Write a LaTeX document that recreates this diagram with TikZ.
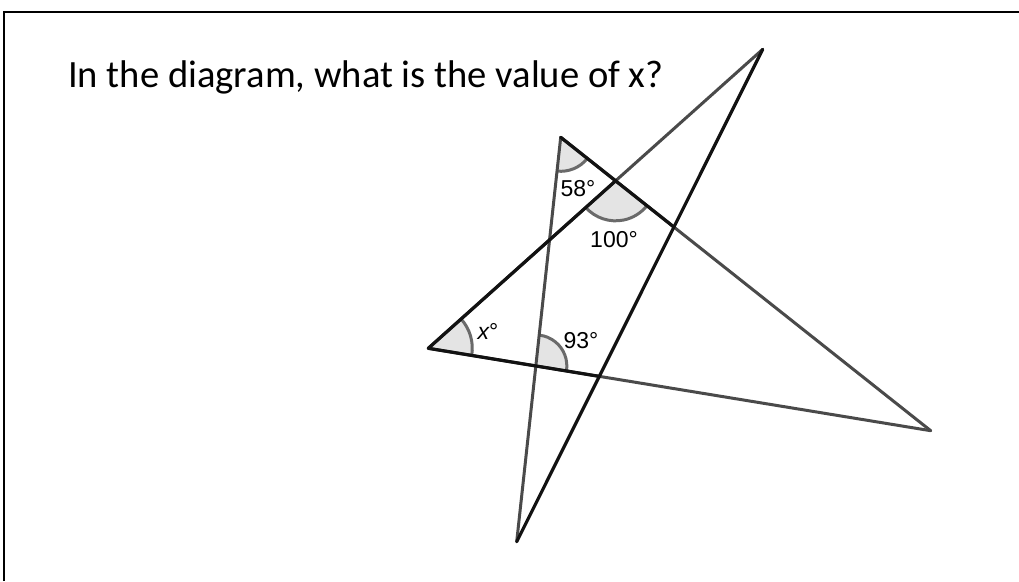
\documentclass[tikz,border=0pt]{standalone}
\usepackage{fontspec}
\setmainfont{Carlito}
\newfontfamily\labfont{Liberation Sans}
\usetikzlibrary{angles,quotes}
\definecolor{lgray}{HTML}{4A4A4A}
\definecolor{ldark}{HTML}{121212}
\definecolor{arcgray}{HTML}{6A6A6A}
\definecolor{arcfill}{HTML}{E4E4E4}
\tikzset{
  thinline/.style={draw=lgray,line width=3pt,line cap=round},
  boldline/.style={draw=ldark,line width=3.2pt,line cap=round,line join=round},
  anglemark/.style={draw=arcgray,fill=arcfill,line width=3pt},
  lab/.style={font=\labfont\fontsize{23}{27}\selectfont,inner sep=0pt},
  frameline/.style={draw=black,line width=2pt}
}
\begin{document}
\begin{tikzpicture}[x=1pt,y=-1pt]
\useasboundingbox (0,0) rectangle (1019,581);
% frame
\coordinate (f1) at (4,581);
\coordinate (f2) at (4,11.5);
\coordinate (f3) at (1019,11.5);
\draw[frameline] (f1) -- (f2) -- (f3);
% title
\node[anchor=base west,inner sep=0pt,font=\fontsize{38.6}{46}\selectfont] (title) at (68,87.3) {In the diagram, what is the value of x?};
% vertices
\coordinate (A) at (560.7,137.3);
\coordinate (R) at (930.7,430.7);
\coordinate (B) at (516.7,541.7);
\coordinate (L) at (428.3,348.3);
\coordinate (T) at (762.7,49.3);
\coordinate (P) at (intersection of A--R and L--T);
\coordinate (Q) at (intersection of A--R and T--B);
\coordinate (S) at (intersection of T--B and L--R);
\coordinate (M) at (intersection of A--B and L--R);
% angle marks
\pic[anglemark,angle radius=34pt] {angle = B--A--R};
\pic[anglemark,angle radius=40pt] {angle = L--P--R};
\pic[anglemark,angle radius=44pt] {angle = R--L--T};
\pic[anglemark,angle radius=31pt] {angle = R--M--A};
% lines
\draw[thinline] (A) -- (R);
\draw[thinline] (A) -- (B);
\draw[thinline] (L) -- (T);
\draw[thinline] (L) -- (R);
\draw[boldline] (T) -- (B);
\draw[boldline] (A) -- (Q);
\draw[boldline] (P) -- (L) -- (S);
% labels
\node[lab] (l58) at (578,189) {58°};
\node[lab] (l100) at (614,240) {100°};
\node[lab] (lx) at (488,331) {\itshape x\upshape°};
\node[lab] (l93) at (581,341) {93°};
\end{tikzpicture}
\end{document}
